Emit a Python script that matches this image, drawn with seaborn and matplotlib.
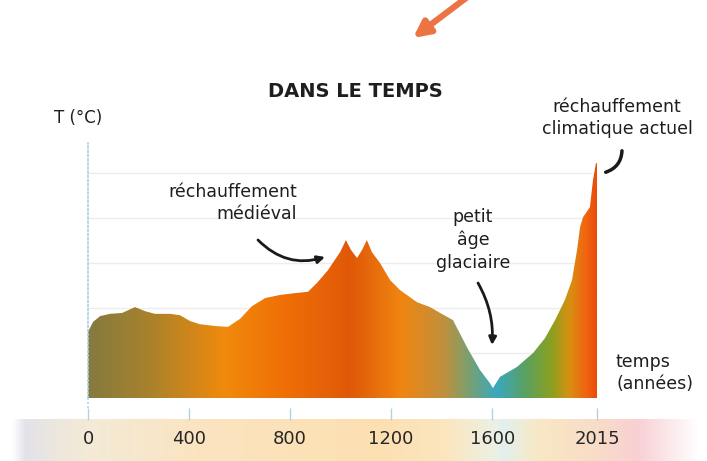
import numpy as np
import matplotlib
matplotlib.use('Agg')
import matplotlib.pyplot as plt
import seaborn as sns
from matplotlib.colors import LinearSegmentedColormap

# valeurs (T en unité arbitraire : 1 = un trait de grille)
annees = [0, 20, 48, 87, 135, 186, 226, 265, 325, 364, 404, 443, 503, 554,
          602, 649, 701, 760, 819, 871, 907, 950, 982, 998, 1021, 1041, 1065,
          1085, 1104, 1124, 1156, 1196, 1235, 1302, 1354, 1394, 1445, 1500,
          1552, 1591, 1603, 1631, 1698, 1762, 1809, 1849, 1888, 1916, 1936,
          1948, 1960, 1987, 1999, 2011, 2015]
temperature = [1.47, 1.69, 1.82, 1.87, 1.89, 2.02, 1.93, 1.87, 1.87, 1.84,
               1.71, 1.64, 1.60, 1.58, 1.76, 2.04, 2.22, 2.29, 2.33, 2.36,
               2.56, 2.84, 3.11, 3.24, 3.51, 3.29, 3.11, 3.29, 3.51, 3.24,
               3.00, 2.62, 2.40, 2.13, 2.02, 1.89, 1.73, 1.13, 0.62, 0.33,
               0.22, 0.47, 0.69, 1.00, 1.33, 1.73, 2.18, 2.62, 3.29, 3.80,
               4.02, 4.24, 4.84, 5.22, 5.22]
graduations = [0, 400, 800, 1200, 1600, 2015]
lignes_grille = [1, 2, 3, 4, 5]

# dégradé de couleur de la courbe (année -> couleur)
stops_annees = [0, 240, 370, 540, 770, 1040, 1240, 1410, 1510, 1620, 1735,
                1840, 1910, 1975, 2015]
stops_couleurs = ['#857a40', '#a8822c', '#c8851e', '#f08a0c', '#f07006',
                  '#e05808', '#f08510', '#c0903c', '#7aa070', '#3aa8c0',
                  '#5aa060', '#8ca020', '#d89010', '#f06410', '#e84e0c']

# dégradé du bandeau du bas
bandeau_pos = [0, 0.02, 0.07, 0.115, 0.275, 0.536, 0.638, 0.696, 0.717,
               0.768, 0.855, 0.913, 1]
bandeau_couleurs = ['#ffffff', '#e4e2ea', '#eee8dc', '#f3ead6', '#fbe4c0',
                    '#fde0b2', '#fbe6c0', '#eef0e0', '#e4f0ec', '#f8e8c4',
                    '#f8dcc8', '#f8d0d4', '#ffffff']

sns.set_theme(style='white')
plt.rcParams['font.family'] = ['DejaVu Sans']

W, H = 707, 461


def fp(x, y):
    # pixels depuis le haut -> 'figure pixels'
    return (x, H - y)


fig = plt.figure(figsize=(W / 100, H / 100), dpi=100)
fig.patch.set_facecolor('white')

# bandeau dégradé sous l'axe
band = fig.add_axes([10 / W, 0, 690 / W, 42 / H], zorder=0)
cmap_band = LinearSegmentedColormap.from_list('band', list(zip(bandeau_pos, bandeau_couleurs)))
band.imshow(np.linspace(0, 1, 700)[None, :], cmap=cmap_band, aspect='auto',
            extent=[0, 1, 0, 1])
band.axis('off')

ax = fig.add_axes([88 / W, (H - 398) / H, (597 - 88) / W, (398 - 143) / H], zorder=1)
ax.patch.set_alpha(0)

sns.lineplot(x=annees, y=temperature, ax=ax, linewidth=0)
poly = ax.fill_between(annees, temperature, 0, color='none', linewidth=0)

cmap = LinearSegmentedColormap.from_list(
    'temps', [(a / 2015, c) for a, c in zip(stops_annees, stops_couleurs)])
grad = np.linspace(0, 1, 1024)[None, :]
im = ax.imshow(grad, cmap=cmap, aspect='auto', origin='lower',
               extent=[0, 2015, 0, max(temperature) + 0.1], zorder=2)
im.set_clip_path(poly.get_paths()[0], transform=ax.transData)

ax.set_xlim(0, 2015)
ax.set_ylim(0, 255 / 45)

# grille et axes
ax.set_yticks(lignes_grille)
ax.yaxis.grid(True, color='#ededed', linewidth=1)
ax.set_axisbelow(True)
ax.tick_params(axis='y', length=0, labelleft=False)
for s in ['top', 'right', 'bottom']:
    ax.spines[s].set_visible(False)
ax.spines['left'].set(color='#a8d0e4', linestyle=(0, (1, 1.5)), linewidth=1.2)
ax.plot([0, 0], [0, -0.27], color='#a8d0e4', linestyle=(0, (1, 1.5)),
        linewidth=1.2, clip_on=False)

ax.set_xticks(graduations)
ax.set_xticklabels([str(g) for g in graduations])
ax.tick_params(axis='x', length=0, pad=23, labelsize=13, labelcolor='#262626')
ax.vlines(graduations, -0.22, -0.49, color='#b4d2e2', linewidth=1, clip_on=False)
ax.set_xlabel('')
ax.set_ylabel('')

# textes
fig.text(355 / W, 1 - 91 / H, 'DANS LE TEMPS', ha='center', va='center',
         fontsize=14, fontweight='bold', color='#1e1e1e')
fig.text(78 / W, 1 - 118 / H, 'T (°C)', ha='center', va='center',
         fontsize=12, color='#1e1e1e')

txt = dict(xycoords='figure pixels', va='center', fontsize=12.5,
           color='#1e1e1e', linespacing=1.35, annotation_clip=False)
ax.annotate('réchauffement\nmédiéval', xy=fp(297, 203), ha='right', **txt)
ax.annotate('petit\nâge\nglaciaire', xy=fp(473, 240), ha='center', **txt)
ax.annotate('réchauffement\nclimatique actuel', xy=fp(617, 118), ha='center', **txt)
ax.annotate('temps\n(années)', xy=fp(616, 373), ha='left', **txt)

fleche = dict(color='#1a1a1a', lw=2, shrinkA=0, shrinkB=0)
ax.annotate('', xy=((325 - 88) / 0.2526, (398 - 257) / 45), xycoords='data',
            xytext=fp(258, 240), textcoords='figure pixels', annotation_clip=False,
            arrowprops=dict(arrowstyle='-|>', mutation_scale=11,
                            connectionstyle='arc3,rad=0.3', **fleche))
ax.annotate('', xy=((492 - 88) / 0.2526, (398 - 345) / 45), xycoords='data',
            xytext=fp(478, 283), textcoords='figure pixels', annotation_clip=False,
            arrowprops=dict(arrowstyle='-|>', mutation_scale=11,
                            connectionstyle='arc3,rad=-0.15', **fleche))
ax.annotate('', xy=fp(603, 173), xycoords='figure pixels',
            xytext=fp(622, 148), textcoords='figure pixels', annotation_clip=False,
            arrowprops=dict(arrowstyle='-', connectionstyle='arc3,rad=-0.4',
                            color='#1a1a1a', lw=2.5))

# flèche orange en haut
ax.annotate('', xy=fp(413, 38), xycoords='figure pixels',
            xytext=fp(474, -8), textcoords='figure pixels', annotation_clip=False,
            arrowprops=dict(arrowstyle='-|>', color='#ec7444', lw=4.5,
                            mutation_scale=24, shrinkA=0, shrinkB=0))

fig.savefig('out.png', dpi=100)
